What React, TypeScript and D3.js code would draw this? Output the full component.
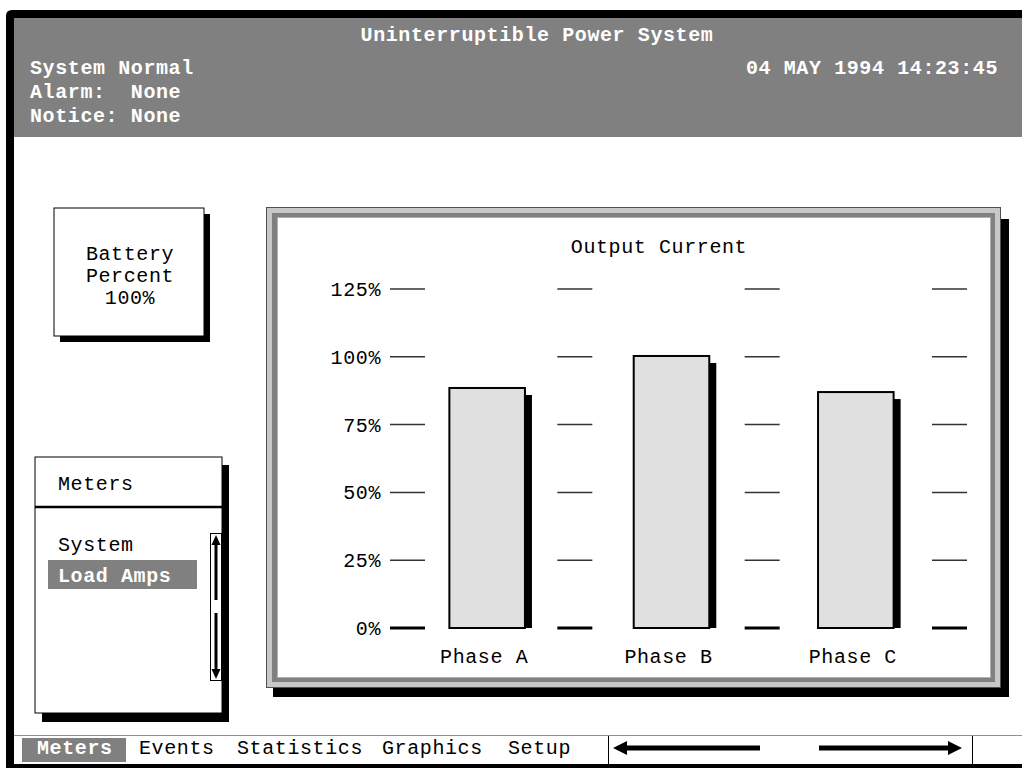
import React from "react";
import * as d3 from "d3";

const phases = ["Phase A", "Phase B", "Phase C"];
const currentPct = [88.5, 100.3, 87];
const yTicks = [0, 25, 50, 75, 100, 125];
const menuItems = ["Meters", "Events", "Statistics", "Graphics", "Setup"];
const statusLines = ["System Normal", "Alarm:  None", "Notice: None"];
const meterItems = ["System", "Load Amps"];

const FONT = "'Courier New', 'Liberation Mono', monospace";
const GRAY = "#808080";

const W = 1022;
const H = 768;

const App: React.FC = () => {
  const y = d3.scaleLinear().domain([0, 125]).range([628, 289]);
  const x = d3
    .scaleBand<string>()
    .domain(phases)
    .range([395, 948])
    .paddingInner(0.59)
    .paddingOuter(0.295);
  const step = x.step();

  // tick segments sit at the band boundaries
  const segStarts = [390, 395 + step - 22, 395 + 2 * step - 19, 395 + 3 * step - 16];
  const menuX = [37, 139, 237, 382, 508];

  const txt = {
    fontFamily: FONT,
    fontSize: 20,
    letterSpacing: 0.6,
  } as React.CSSProperties;

  return (
    <svg
      width={W}
      height={H}
      style={{ position: "fixed", left: 0, top: 0, background: "#fff" }}
    >
      <rect x={0} y={0} width={W} height={H} fill="#fff" />

      {/* outer frame */}
      <path d={`M6,${H} L6,16 Q6,10 12,10 L${W},10 L${W},18 L14,18 L14,${H} Z`} fill="#000" />
      <rect x={6} y={764} width={W - 6} height={4} fill="#000" />

      {/* header */}
      <rect x={14} y={18} width={W - 14} height={119} fill={GRAY} />
      <text x={537} y={41} textAnchor="middle" fill="#fff" style={{ ...txt, fontWeight: "bold" }}>
        Uninterruptible Power System
      </text>
      {statusLines.map((s, i) => (
        <text key={s} x={30} y={74 + i * 24} fill="#fff" style={{ ...txt, fontWeight: "bold" }} xmlSpace="preserve">
          {s}
        </text>
      ))}
      <text x={998} y={74} textAnchor="end" fill="#fff" style={{ ...txt, fontWeight: "bold" }}>
        04 MAY 1994 14:23:45
      </text>

      {/* battery box */}
      <rect x={60} y={214} width={150} height={128} fill="#000" />
      <rect x={54} y={208} width={150} height={128} fill="#fff" stroke="#000" strokeWidth={1} />
      {["Battery", "Percent", "100%"].map((s, i) => (
        <text key={s} x={130} y={260 + i * 22} textAnchor="middle" style={txt}>
          {s}
        </text>
      ))}

      {/* meters panel */}
      <rect x={42} y={465} width={187} height={257} fill="#000" />
      <rect x={35} y={457} width={187} height={256} fill="#fff" stroke="#000" strokeWidth={1} />
      <line x1={35} x2={222} y1={507} y2={507} stroke="#000" strokeWidth={2.5} />
      <text x={58} y={490} style={txt}>Meters</text>
      <text x={58} y={551} style={txt}>{meterItems[0]}</text>
      <rect x={48} y={560} width={149} height={29} fill={GRAY} />
      <text x={58} y={582} fill="#fff" style={{ ...txt, fontWeight: "bold" }}>{meterItems[1]}</text>
      <rect x={210.5} y={533.5} width={11} height={147} fill="#fff" stroke="#000" strokeWidth={1} />
      <path d="M216,535 L211.5,545 L220.5,545 Z" fill="#000" />
      <line x1={216} x2={216} y1={544} y2={600} stroke="#000" strokeWidth={3} />
      <line x1={216} x2={216} y1={613} y2={670} stroke="#000" strokeWidth={3} />
      <path d="M216,679 L211.5,669 L220.5,669 Z" fill="#000" />

      {/* chart panel */}
      <rect x={273} y={219} width={736} height={478} fill="#000" />
      <rect x={266.5} y={207.5} width={734} height={480} fill="#c8c8c8" stroke="#505050" strokeWidth={1} />
      <rect x={272} y={213} width={723} height={469} fill={GRAY} />
      <rect x={277.5} y={217.5} width={713} height={460} fill="#fff" stroke="#b0b0b0" strokeWidth={1} />

      <text x={659} y={253} textAnchor="middle" style={txt}>Output Current</text>

      {yTicks.map((t) => (
        <g key={t}>
          <text x={381} y={y(t)} dy={7} textAnchor="end" style={txt}>
            {t}%
          </text>
          {segStarts.map((s, i) => (
            <line
              key={i}
              x1={s}
              x2={s + 35}
              y1={y(t)}
              y2={y(t)}
              stroke={t === 0 ? "#000" : "#333"}
              strokeWidth={t === 0 ? 3 : 1.5}
            />
          ))}
        </g>
      ))}

      {phases.map((p, i) => {
        const bx = x(p) as number;
        const bw = x.bandwidth();
        return (
          <g key={p}>
            <rect x={bx + 2} y={y(currentPct[i]) + 7} width={bw + 5} height={y(0) - y(currentPct[i]) - 7} fill="#000" />
            <rect
              x={bx}
              y={y(currentPct[i])}
              width={bw}
              height={y(0) - y(currentPct[i])}
              fill="#e0e0e0"
              stroke="#000"
              strokeWidth={2}
            />
            <text x={bx + bw / 2 - 3} y={663} textAnchor="middle" style={txt}>
              {p}
            </text>
          </g>
        );
      })}

      {/* bottom menu bar */}
      <line x1={14} x2={W} y1={735.5} y2={735.5} stroke="#909090" strokeWidth={1} />
      <rect x={22} y={738} width={104} height={24} fill={GRAY} />
      {menuItems.map((m, i) => (
        <text
          key={m}
          x={menuX[i]}
          y={754}
          fill={i === 0 ? "#fff" : "#000"}
          style={{ ...txt, fontWeight: i === 0 ? "bold" : "normal" }}
        >
          {m}
        </text>
      ))}
      <line x1={608.5} x2={608.5} y1={736} y2={764} stroke="#000" strokeWidth={1} />
      <line x1={972.5} x2={972.5} y1={736} y2={764} stroke="#000" strokeWidth={1} />
      <path d="M613,748 L627,741 L627,755 Z" fill="#000" />
      <rect x={626} y={745.5} width={134} height={5} fill="#000" />
      <rect x={819} y={745.5} width={130} height={5} fill="#000" />
      <path d="M962,748 L948,741 L948,755 Z" fill="#000" />
    </svg>
  );
};

export default App;
